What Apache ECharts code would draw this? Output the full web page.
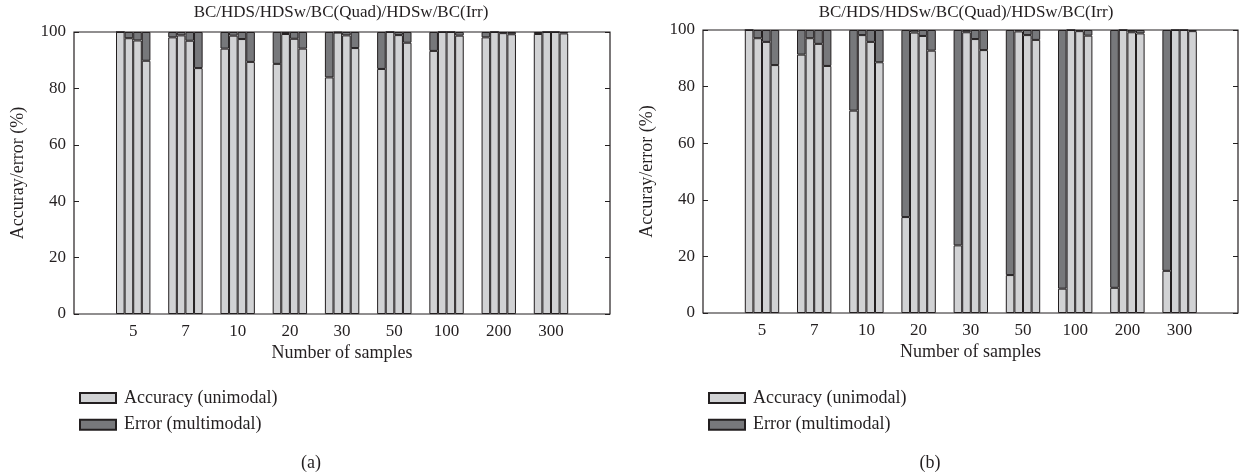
<!DOCTYPE html>
<html>
<head>
<meta charset="utf-8">
<script src="https://cdn.jsdelivr.net/npm/echarts@6/dist/echarts.min.js"></script>
<style>
  html, body { margin: 0; padding: 0; background: #fff; }
  #chart { width: 1240px; height: 474px; }
</style>
</head>
<body>
<div id="chart"></div>
<script>
// number of samples on the x axis
const categories = ["5", "7", "10", "20", "30", "50", "100", "200", "300"];
const yTicks = [0, 20, 40, 60, 80, 100];
const panelTitle = "BC/HDS/HDSw/BC(Quad)/HDSw/BC(Irr)";

// (a) accuracy / error, one row per bar in a group
const accuracyA = [
  [100, 98.1, 94.1, 88.7, 83.9, 86.9, 93.3, 98.1, 99.3],
  [97.8, 98.8, 98.7, 99.3, 99.8, 100, 100, 100, 100],
  [97.0, 96.9, 97.5, 97.6, 98.8, 98.9, 100, 99.6, 100],
  [89.8, 87.2, 89.4, 94.1, 94.3, 96.2, 98.7, 99.2, 99.5],
];
const errorA = [
  [0, 1.9, 5.9, 11.3, 16.1, 13.1, 6.7, 1.9, 0.7],
  [2.2, 1.2, 1.3, 0.7, 0.2, 0, 0, 0, 0],
  [3.0, 3.1, 2.5, 2.4, 1.2, 1.1, 0, 0.4, 0],
  [10.2, 12.8, 10.6, 5.9, 5.7, 3.8, 1.3, 0.8, 0.5],
];

// (b)
const accuracyB = [
  [100, 91.3, 71.5, 33.9, 23.9, 13.4, 8.6, 8.9, 14.9],
  [97.1, 97.1, 98.2, 99.1, 99.2, 99.5, 100, 100, 100],
  [95.8, 95.1, 95.8, 97.9, 96.8, 98.2, 99.6, 99.2, 100],
  [87.6, 87.3, 88.6, 92.7, 92.9, 96.5, 98.0, 98.8, 99.6],
];
const errorB = [
  [0, 8.7, 28.5, 66.1, 76.1, 86.6, 91.4, 91.1, 85.1],
  [2.9, 2.9, 1.8, 0.9, 0.8, 0.5, 0, 0, 0],
  [4.2, 4.9, 4.2, 2.1, 3.2, 1.8, 0.4, 0.8, 0],
  [12.4, 12.7, 11.4, 7.3, 7.1, 3.5, 2.0, 1.2, 0.4],
];

const accName = "Accuracy (unimodal)";
const errName = "Error (multimodal)";

const FONT = "Liberation Serif";
const INK = "#231f20";
const LIGHT = "#d1d2d4";
const DARK = "#77787b";

const panels = [
  { frame: { left: 74, top: 32, width: 536, height: 282 }, barsLeft: 107.1, barsWidth: 470,
    acc: accuracyA, err: errorA, titleX: 341, tag: "(a)", tagX: 311 },
  { frame: { left: 703, top: 30, width: 535, height: 283 }, barsLeft: 735.9, barsWidth: 469.8,
    acc: accuracyB, err: errorB, titleX: 966, tag: "(b)", tagX: 930 },
];

const grid = [], xAxis = [], yAxis = [], series = [], legend = [], title = [];

panels.forEach((p, i) => {
  const f = p.frame;
  const gFrame = grid.length;
  grid.push({ left: f.left, top: f.top, width: f.width, height: f.height,
    show: true, borderColor: INK, borderWidth: 1.2, backgroundColor: "transparent" });
  const gBars = grid.length;
  grid.push({ left: p.barsLeft, top: f.top, width: p.barsWidth, height: f.height });

  // frame axes
  xAxis.push({
    gridIndex: gFrame, type: "value", min: 0, max: 1,
    axisLine: { show: false }, axisTick: { show: false },
    axisLabel: { show: false }, splitLine: { show: false },
    name: "Number of samples", nameLocation: "middle", nameGap: 30,
    nameTextStyle: { fontFamily: FONT, fontSize: 18, color: INK },
  });
  yAxis.push({
    gridIndex: gFrame, type: "value", position: "left",
    min: yTicks[0], max: yTicks[yTicks.length - 1], interval: yTicks[1] - yTicks[0],
    axisLine: { show: false },
    axisTick: { show: true, inside: true, length: 5, lineStyle: { color: INK } },
    axisLabel: { margin: 8, fontFamily: FONT, fontSize: 17, color: INK },
    splitLine: { show: false },
    name: "Accuray/error (%)", nameLocation: "middle", nameGap: 47,
    nameTextStyle: { fontFamily: FONT, fontSize: 18, color: INK },
  });
  yAxis.push({
    gridIndex: gFrame, type: "value", position: "right",
    min: yTicks[0], max: yTicks[yTicks.length - 1], interval: yTicks[1] - yTicks[0],
    axisLine: { show: false },
    axisTick: { show: true, inside: true, length: 5, lineStyle: { color: INK } },
    axisLabel: { show: false }, splitLine: { show: false },
  });

  // bar axes
  const xb = xAxis.length;
  xAxis.push({
    gridIndex: gBars, type: "category", data: categories,
    axisLine: { show: false }, axisTick: { show: false },
    axisLabel: { margin: 9, fontFamily: FONT, fontSize: 17, color: INK },
  });
  const yb = yAxis.length;
  yAxis.push({ gridIndex: gBars, type: "value", min: 0, max: 100, show: false });

  for (let k = 0; k < 4; k++) {
    const stack = "p" + i + "b" + k;
    const common = {
      type: "bar", xAxisIndex: xb, yAxisIndex: yb, stack: stack,
      barWidth: 8.6, barGap: "0%",
    };
    series.push(Object.assign({}, common, {
      name: accName, data: p.acc[k],
      itemStyle: { color: LIGHT, borderColor: INK, borderWidth: 1 },
    }));
    series.push(Object.assign({}, common, {
      name: errName, data: p.err[k],
      itemStyle: { color: DARK, borderColor: INK, borderWidth: 1 },
    }));
  }

  legend.push({
    orient: "vertical", left: f.left, top: 384,
    itemWidth: 36, itemHeight: 10, itemGap: 8.7,
    selectedMode: false, icon: "rect",
    data: [accName, errName],
    textStyle: { fontFamily: FONT, fontSize: 18, lineHeight: 18, color: INK, padding: [0, 0, 0, 3] },
  });

  title.push({
    text: panelTitle, left: p.titleX, textAlign: "center", top: 4, padding: 0,
    textStyle: { fontFamily: FONT, fontSize: 17, fontWeight: "normal", color: INK },
  });
  title.push({
    text: p.tag, left: p.tagX, textAlign: "center", top: 454, padding: 0,
    textStyle: { fontFamily: FONT, fontSize: 18, fontWeight: "normal", color: INK },
  });
});

const chart = echarts.init(document.getElementById("chart"));
chart.setOption({
  animation: false,
  title: title,
  grid: grid,
  xAxis: xAxis,
  yAxis: yAxis,
  legend: legend,
  series: series,
});
window.addEventListener("resize", () => chart.resize());
</script>
</body>
</html>
